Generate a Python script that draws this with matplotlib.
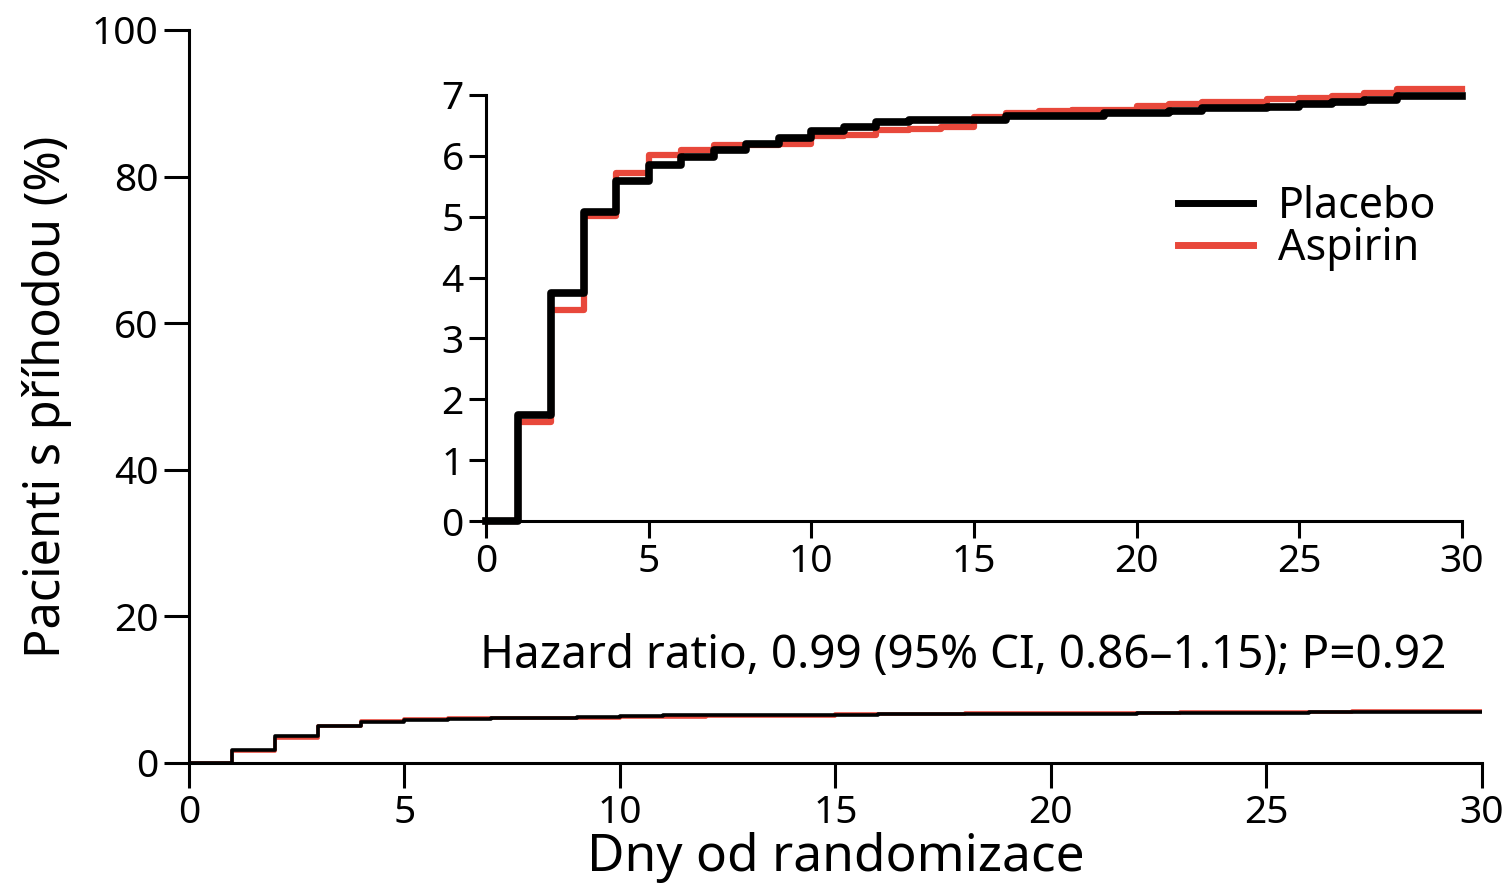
import matplotlib
matplotlib.use("Agg")
import matplotlib.pyplot as plt

plt.rcParams['font.family'] = ['Noto Sans', 'DejaVu Sans']

# kumulativni podil pacientu s prihodou (%), hodnota plati od daneho dne do dalsiho
days = list(range(0, 31))
placebo = [0, 1.74, 3.75, 5.08, 5.58, 5.85, 5.98, 6.10, 6.20, 6.29,
           6.40, 6.48, 6.55, 6.59, 6.59, 6.59, 6.65, 6.65, 6.65, 6.70,
           6.70, 6.73, 6.78, 6.78, 6.81, 6.85, 6.89, 6.92, 6.99, 6.99, 6.99]
aspirin = [0, 1.63, 3.47, 5.01, 5.71, 6.01, 6.10, 6.18, 6.18, 6.20,
           6.32, 6.34, 6.42, 6.44, 6.47, 6.64, 6.71, 6.73, 6.76, 6.76,
           6.82, 6.85, 6.88, 6.89, 6.93, 6.95, 6.99, 7.03, 7.10, 7.10, 7.10]

x_ticks = [0, 5, 10, 15, 20, 25, 30]
main_y_ticks = [0, 20, 40, 60, 80, 100]
inset_y_ticks = [0, 1, 2, 3, 4, 5, 6, 7]

RED = '#e8483b'

fig = plt.figure(figsize=(15.12, 8.9), dpi=100)

# hlavni graf
ax = fig.add_axes([0.125, 0.1427, 0.855, 0.8236])
ax.step(days, aspirin, where='post', color=RED, lw=2.6)
ax.step(days, placebo, where='post', color='black', lw=2.6)
ax.set_xlim(0, 30)
ax.set_ylim(0, 100)
ax.set_xticks(x_ticks)
ax.set_yticks(main_y_ticks)
for s in ['top', 'right']:
    ax.spines[s].set_visible(False)
for s in ['left', 'bottom']:
    ax.spines[s].set_linewidth(2.2)
ax.tick_params(direction='out', length=18, width=2.2, labelsize=28, pad=4)
ax.set_xlabel('Dny od randomizace', fontsize=37, labelpad=0)
ax.set_ylabel('Pacienti s příhodou (%)', fontsize=35, labelpad=14)

ax.text(0.225, 0.146, 'Hazard ratio, 0.99 (95% CI, 0.86\u20131.15); P=0.92',
        transform=ax.transAxes, fontsize=33, va='center', ha='left')

# vlozeny graf
ins = fig.add_axes([0.3214, 0.4146, 0.6455, 0.4787])
ins.step(days, aspirin, where='post', color=RED, lw=4.5, label='Aspirin', clip_on=False)
ins.step(days, placebo, where='post', color='black', lw=5.5, label='Placebo', clip_on=False)
ins.set_xlim(0, 30)
ins.set_ylim(0, 7)
ins.set_xticks(x_ticks)
ins.set_yticks(inset_y_ticks)
for s in ['top', 'right']:
    ins.spines[s].set_visible(False)
for s in ['left', 'bottom']:
    ins.spines[s].set_linewidth(2.2)
ins.tick_params(direction='out', length=12, width=2.2, labelsize=28, pad=4)

h, l = ins.get_legend_handles_labels()
leg = ins.legend(h[::-1], l[::-1], loc='upper left', bbox_to_anchor=(0.709, 0.788),
                 frameon=False, fontsize=31, handlelength=1.75, labelspacing=-0.05,
                 handletextpad=0.58, borderpad=0, borderaxespad=0)
for line in leg.get_lines():
    line.set_linewidth(5)

fig.savefig('out.png', dpi=100)
